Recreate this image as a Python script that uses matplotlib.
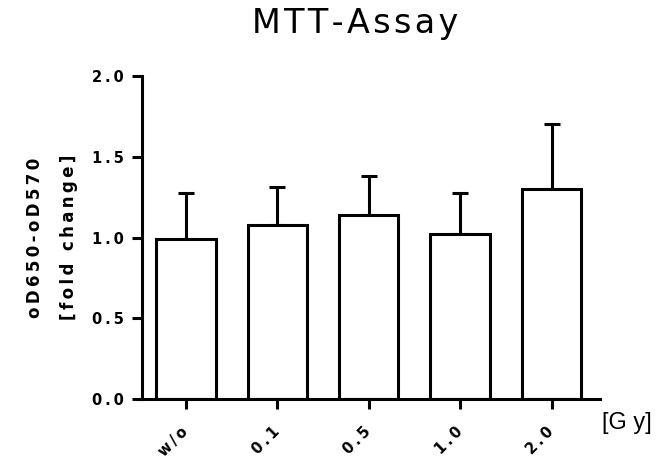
import numpy as np
import matplotlib
matplotlib.use("Agg")
import matplotlib.pyplot as plt

plt.rcParams['font.family'] = ['DejaVu Sans']

# MTT assay, fold change of oD650-oD570 per irradiation dose
doses = ["w/o", "0.1", "0.5", "1.0", "2.0"]
fold_change = [0.99, 1.075, 1.14, 1.02, 1.30]
sd_upper = [0.285, 0.235, 0.24, 0.255, 0.40]
y_ticks = [0.0, 0.5, 1.0, 1.5, 2.0]

THIN = "\u2009"
HAIR = "\u200a"


def spaced(s, gap=THIN):
    # letter-spaced text like the Prism export
    return gap.join(s)


fig = plt.figure(figsize=(6.69, 4.58), dpi=100)
ax = fig.add_axes([0.2123, 0.1288, 0.897 - 0.2123, 0.834 - 0.1288])

x = np.arange(len(doses))
lw = 2.2
ax.bar(x, fold_change, width=0.65, color="white", edgecolor="black",
       linewidth=lw, zorder=2)
ax.errorbar(x, fold_change, yerr=[np.zeros(len(x)), sd_upper], fmt="none",
            ecolor="black", elinewidth=lw, capsize=6, capthick=lw, zorder=1)

ax.set_ylim(0, 2.0)
ax.set_xlim(-0.48, 4.53)
ax.set_yticks(y_ticks)
ax.set_yticklabels([spaced(f"{t:.1f}") for t in y_ticks],
                   fontsize=10.5, fontweight="bold")
ax.set_xticks(x)
ax.set_xticklabels([spaced(d) for d in doses], fontsize=10.5,
                   fontweight="bold", rotation=45, ha="right", va="center",
                   rotation_mode="anchor")

for side in ["top", "right"]:
    ax.spines[side].set_visible(False)
for side in ["left", "bottom"]:
    ax.spines[side].set_linewidth(lw)
ax.tick_params(axis="both", direction="out", length=7, width=lw)
ax.tick_params(axis="y", pad=6)
ax.tick_params(axis="x", pad=15)

ax.set_ylabel(spaced("oD650-oD570") + "\n" + spaced("[fold change]"),
              fontsize=12, fontweight="bold", linespacing=2.1,
              va="center")
ax.yaxis.set_label_coords(-(142 - 52) / 458, 0.5)

fig.text(355 / 669, 1 - 33 / 458, spaced("MTT-Assay", HAIR),
         fontsize=24, ha="center", va="baseline")
fig.text(627 / 669, 1 - 423 / 458, "[G y]", fontsize=17,
         ha="center", va="center", family="Liberation Sans")

fig.savefig("out.png", dpi=100)
